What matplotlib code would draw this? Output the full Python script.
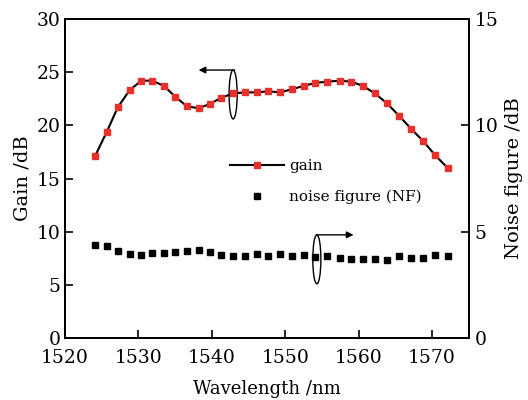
import matplotlib.pyplot as plt
from matplotlib.patches import Ellipse
from matplotlib.lines import Line2D

# wavelength (nm)
wavelength = [1524.1, 1525.7, 1527.2, 1528.8, 1530.4, 1531.9, 1533.5, 1535.0,
              1536.6, 1538.2, 1539.7, 1541.3, 1542.9, 1544.5, 1546.1, 1547.7,
              1549.3, 1550.9, 1552.5, 1554.1, 1555.7, 1557.4, 1559.0, 1560.6,
              1562.2, 1563.8, 1565.5, 1567.1, 1568.8, 1570.4, 1572.1]
gain = [17.1, 19.4, 21.7, 23.3, 24.2, 24.2, 23.7, 22.7, 21.8, 21.6, 22.0,
        22.6, 23.0, 23.1, 23.1, 23.2, 23.1, 23.4, 23.7, 24.0, 24.1, 24.2,
        24.1, 23.7, 23.0, 22.1, 20.9, 19.7, 18.5, 17.2, 16.0]
noise_figure = [4.37, 4.31, 4.09, 3.96, 3.92, 4.00, 3.98, 4.04, 4.07, 4.14,
                4.03, 3.90, 3.86, 3.87, 3.96, 3.87, 3.96, 3.87, 3.89, 3.79,
                3.87, 3.75, 3.71, 3.71, 3.71, 3.68, 3.86, 3.78, 3.78, 3.89, 3.84]

plt.rcParams['font.family'] = ['DejaVu Serif']

red = '#e8302c'

fig = plt.figure(figsize=(5.28, 4), dpi=100)
ax = fig.add_axes([0.123, 0.155, 0.765, 0.7975])
ax2 = ax.twinx()

ax.plot(wavelength, gain, color='black', lw=1.5, marker='s', ms=4.5,
        mfc=red, mec=red, zorder=3)
ax2.plot(wavelength, noise_figure, ls='none', marker='s', ms=5,
         mfc='black', mec='black')

ax.set_xlim(1520, 1575)
ax.set_ylim(0, 30)
ax2.set_ylim(0, 15)
ax.set_xticks([1520, 1530, 1540, 1550, 1560, 1570])
ax.set_yticks([0, 5, 10, 15, 20, 25, 30])
ax2.set_yticks([0, 5, 10, 15])

for a in (ax, ax2):
    for s in a.spines.values():
        s.set_linewidth(1.4)
ax.tick_params(direction='in', length=6, width=1.2, top=False, right=False,
               labelsize=13.5, pad=3)
ax.tick_params(axis='x', pad=8)
ax2.tick_params(direction='in', length=6, width=1.2, labelsize=13.5, pad=4)

ax.set_xlabel('Wavelength /nm', fontsize=13, labelpad=9)
ax.set_ylabel('Gain /dB', fontsize=14, labelpad=4)
ax2.set_ylabel('Noise figure /dB', fontsize=14, labelpad=5)

# ellipses with arrows pointing to the axis each curve belongs to
ax.add_patch(Ellipse((1542.9, 22.9), 1.1, 4.6, fill=False, ec='black', lw=1))
ax.annotate('', xy=(1538.2, 25.2), xytext=(1543.1, 25.2),
            arrowprops=dict(arrowstyle='-|>', color='black', lw=1,
                            mutation_scale=10, shrinkA=0, shrinkB=0))
ax.add_patch(Ellipse((1554.3, 7.4), 1.1, 4.6, fill=False, ec='black', lw=1))
ax.annotate('', xy=(1559.3, 9.7), xytext=(1554.3, 9.7),
            arrowprops=dict(arrowstyle='-|>', color='black', lw=1,
                            mutation_scale=10, shrinkA=0, shrinkB=0))

handles = [Line2D([], [], color='black', lw=1.5, marker='s', ms=4.5,
                  mfc=red, mec=red),
           Line2D([], [], ls='none', marker='s', ms=5, mfc='black', mec='black')]
ax2.legend(handles, ['gain', 'noise figure (NF)'], loc='center left',
           bbox_to_anchor=(0.375, 0.49), frameon=False, fontsize=11,
           handlelength=3.5, handletextpad=0.35, labelspacing=1.1)

plt.savefig('out.png', dpi=100)
